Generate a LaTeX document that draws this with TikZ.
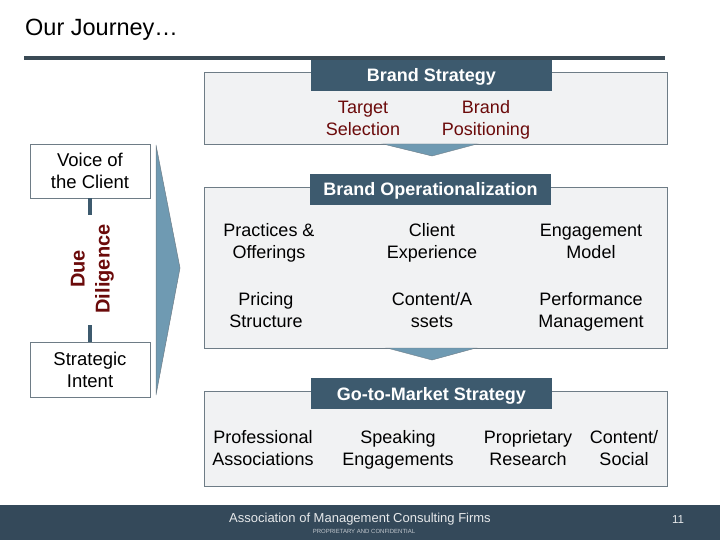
\documentclass[tikz,border=0pt]{standalone}
\usepackage{fontspec}
\setmainfont{Liberation Sans}
\usetikzlibrary{positioning}
\definecolor{slate}{HTML}{3D5A6E}
\definecolor{rule}{HTML}{3A4A55}
\definecolor{boxfill}{HTML}{F1F2F3}
\definecolor{boxline}{HTML}{6E7C86}
\definecolor{darkred}{HTML}{6B0A0A}
\definecolor{arrowblue}{HTML}{6F9AB2}
\definecolor{footer}{HTML}{34495A}
\newcommand\twol[2]{\strut #1\\\strut #2}
\newcommand\twolow[2]{\rule{0pt}{20.5pt}#1\\\strut #2}
\tikzset{
  panel/.style={draw=boxline, fill=boxfill, line width=0.8pt},
  header/.style={fill=slate, text=white, font=\bfseries\fontsize{18}{20}\selectfont, inner sep=0pt, text height=13pt, text depth=0pt},
  item/.style={align=center, font=\fontsize{18}{22}\selectfont, inner sep=0pt},
  reditem/.style={item, text=darkred},
  sidebox/.style={draw=boxline, fill=white, line width=0.8pt, align=center, font=\fontsize{18.5}{22}\selectfont},
  downarrow/.style={fill=arrowblue, draw=boxline, line width=0.4pt},
}
\begin{document}
\begin{tikzpicture}[x=1pt,y=-1pt]
\useasboundingbox (0,0) rectangle (720,540);
% title
\node[anchor=base west, inner sep=0pt, font=\fontsize{23.5}{26}\selectfont] (title) at (25,36) {Our Journey…};
\draw[rule, line width=4pt] (24,58) -- (665,58);

% Brand strategy panel
\draw[panel] (204,72) rectangle (667,144);
\node[header, minimum width=241pt, minimum height=31pt] (bs) at (431.5,75.5) {Brand Strategy};
\node[reditem] (ts) at (363,120.5) {\twol{Target}{Selection}};
\node[reditem] (bp) at (486,120.5) {\twol{Brand}{Positioning}};
\draw[downarrow] (383,144) -- (477,144) -- (432,156) -- cycle;

% Brand operationalization panel
\draw[panel] (204,187) rectangle (667,348);
\node[header, minimum width=241pt, minimum height=31pt] (bo) at (430.5,189.5) {Brand Operationalization};
\node[item] (po) at (269,243.5) {\twol{Practices \&}{Offerings}};
\node[item] (ce) at (432,243.5) {\twol{Client}{Experience}};
\node[item] (em) at (591,243.5) {\twol{Engagement}{Model}};
\node[item] (ps) at (266,312.5) {\twol{Pricing}{Structure}};
\node[item] (ca) at (432,312.5) {\twol{Content/A}{ssets}};
\node[item] (pm) at (591,312.5) {\twol{Performance}{Management}};
\draw[downarrow] (387,348) -- (476,348) -- (432,360) -- cycle;

% Go-to-market panel
\draw[panel] (204,391) rectangle (667,486);
\node[header, minimum width=241pt, minimum height=31pt] (gm) at (431.5,393.5) {Go-to-Market Strategy};
\node[item] (pa) at (263,450.5) {\twol{Professional}{Associations}};
\node[item] (se) at (398,450.5) {\twol{Speaking}{Engagements}};
\node[item] (pr) at (528,450.5) {\twol{Proprietary}{Research}};
\node[item] (cs) at (624,450.5) {\twol{Content/}{Social}};

% left side
\node[sidebox, minimum width=120pt, minimum height=54pt, inner sep=0pt] (voc) at (90,171) {\twolow{Voice of}{the Client}};
\node[sidebox, minimum width=120pt, minimum height=55pt, inner sep=0pt] (si) at (90,369.5) {\twolow{Strategic}{Intent}};
\node[rotate=90, align=center, text=darkred, font=\bfseries\fontsize{20}{25}\selectfont, inner sep=0pt] (dd) at (92,269) {\strut Due\\\strut Diligence};
\coordinate (ddtop) at (90,215);
\coordinate (ddbot) at (90,325);
\draw[slate, line width=3.5pt] (voc.south) -- (ddtop);
\draw[slate, line width=3.5pt] (ddbot) -- (si.north);
\draw[fill=arrowblue, draw=boxline, line width=0.5pt] (156,145) -- (180,268) -- (156,395) -- cycle;

% footer
\fill[footer] (0,505) rectangle (720,540);
\node[text=white!88!footer, font=\fontsize{13}{15}\selectfont, inner sep=0pt] (amcf) at (360,519) {Association of Management Consulting Firms};
\node[text=white!70!footer, font=\fontsize{6}{7}\selectfont, inner sep=0pt] (conf) at (364,531) {PROPRIETARY AND CONFIDENTIAL};
\node[text=white!88!footer, font=\fontsize{11.5}{13}\selectfont, inner sep=0pt] (pg) at (678,520) {11};
\end{tikzpicture}
\end{document}
